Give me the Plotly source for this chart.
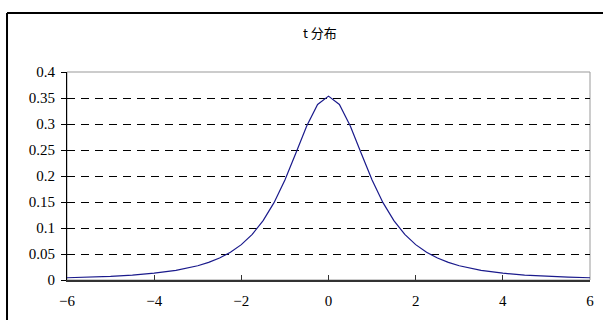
import plotly.graph_objects as go

# t distribution density
t_values = [-6, -5.5, -5, -4.5, -4, -3.5, -3, -2.75, -2.5, -2.25, -2, -1.75, -1.5,
            -1.25, -1, -0.75, -0.5, -0.25, 0, 0.25, 0.5, 0.75, 1, 1.25, 1.5, 1.75,
            2, 2.25, 2.5, 2.75, 3, 3.5, 4, 4.5, 5, 5.5, 6]
density = [0.0043, 0.0055, 0.0071, 0.0095, 0.0131, 0.0186, 0.0274, 0.0338, 0.0422,
           0.0533, 0.068, 0.0878, 0.1141, 0.1487, 0.1925, 0.2438, 0.2963, 0.3376,
           0.3536, 0.3376, 0.2963, 0.2438, 0.1925, 0.1487, 0.1141, 0.0878, 0.068,
           0.0533, 0.0422, 0.0338, 0.0274, 0.0186, 0.0131, 0.0095, 0.0071, 0.0055,
           0.0043]
x_ticks = [-6, -4, -2, 0, 2, 4, 6]
y_ticks = [0, 0.05, 0.1, 0.15, 0.2, 0.25, 0.3, 0.35, 0.4]
title_text = "t 分布"

font_main = "Liberation Serif, Noto Sans CJK SC, serif"

fig = go.Figure()
fig.add_trace(go.Scatter(x=t_values, y=density, mode="lines",
                         line=dict(color="#1a1a8c", width=1.2),
                         showlegend=False, hoverinfo="skip"))

fig.update_layout(
    width=603, height=320,
    margin=dict(l=67, r=13, t=72, b=40),
    paper_bgcolor="white", plot_bgcolor="white",
    font=dict(family=font_main, size=15, color="black"),
    xaxis=dict(range=[-6, 6], tickvals=x_ticks, showgrid=False, zeroline=False,
               showline=True, linecolor="#333333", linewidth=2,
               ticks="inside", ticklen=5, tickcolor="#333333",
               ticklabelstandoff=6, automargin=False, fixedrange=True),
    yaxis=dict(range=[0, 0.4], tickvals=y_ticks, showgrid=True,
               gridcolor="black", griddash="8px,6px", gridwidth=1,
               zeroline=False, showline=True, linecolor="black", linewidth=1,
               ticks="outside", ticklen=5, tickcolor="black",
               ticklabelstandoff=3, automargin=False, fixedrange=True),
    shapes=[
        dict(type="rect", xref="paper", yref="paper", x0=0, x1=1, y0=0, y1=1,
             line=dict(color="#999999", width=1), layer="below"),
        # outer chart border (only left and top edges fall inside the window)
        dict(type="line", xref="paper", yref="paper", x0=-0.1147, x1=-0.1147,
             y0=-0.6, y1=1.2837, line=dict(color="black", width=2)),
        dict(type="line", xref="paper", yref="paper", x0=-0.1147, x1=1.3,
             y0=1.2837, y1=1.2837, line=dict(color="black", width=2)),
    ],
    annotations=[dict(text=title_text, xref="paper", yref="paper", x=0.484,
                      y=1.19, showarrow=False, yanchor="middle",
                      font=dict(family="Noto Sans CJK SC", size=13))],
)

# drop the default page margin so the 603x320 figure fills the window exactly
fig.write_html("out.html", config={"displayModeBar": False},
               post_script="document.body.style.margin='0';"
               "document.body.style.overflow='hidden';")
